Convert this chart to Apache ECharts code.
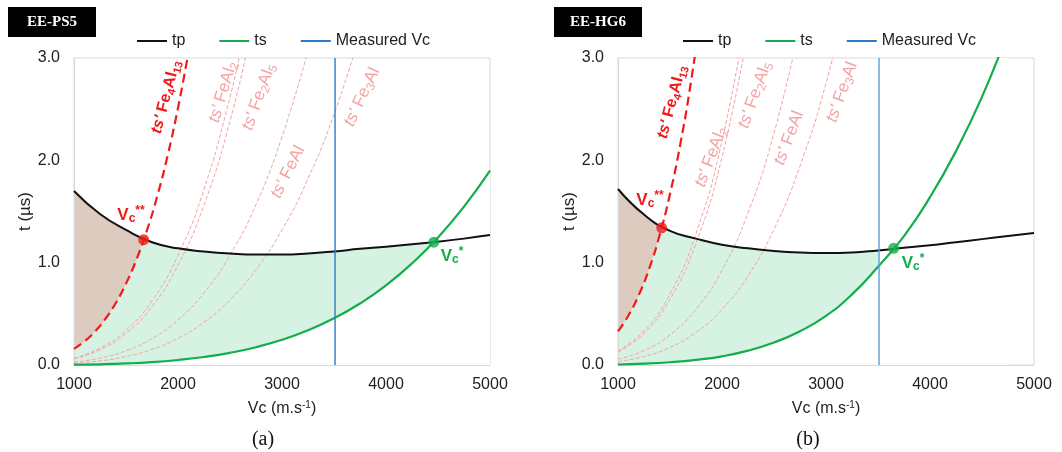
<!DOCTYPE html>
<html><head><meta charset="utf-8">
<script src="https://cdn.jsdelivr.net/npm/echarts@6/dist/echarts.min.js"></script>
<style>html,body{margin:0;padding:0;background:#fff}#c{width:1062px;height:452px}</style>
</head><body><div id="c"></div>
<script>
// ---------- data ----------
const xTicks = [1000, 2000, 3000, 4000, 5000];
const yTicks = [0, 1, 2, 3];
const panelTitles = ['EE-PS5', 'EE-HG6'];
const captions = ['(a)', '(b)'];
const measuredVc = [3510, 3510];

// panel (a) EE-PS5
const tpA = [[1000,1.70],[1250,1.475],[1500,1.32],[1750,1.20],[2000,1.14],[2250,1.11],[2500,1.09],[2750,1.08],[3000,1.08],[3250,1.09],[3500,1.11],[3750,1.135],[4000,1.155],[4250,1.18],[4500,1.205],[4750,1.235],[5000,1.27]];
const tsA = [[1000,0.003],[1250,0.007],[1500,0.015],[1750,0.028],[2000,0.049],[2250,0.078],[2500,0.119],[2750,0.174],[3000,0.246],[3250,0.339],[3500,0.456],[3750,0.601],[4000,0.778],[4250,0.993],[4500,1.247],[4750,1.548],[5000,1.90]];
const fe4al13A = [[1000,0.157],[1100,0.23],[1200,0.326],[1300,0.448],[1400,0.603],[1500,0.795],[1600,1.029],[1700,1.311],[1800,1.648],[1900,2.046],[2000,2.512],[2100,3.053]];
const feal2A = [[1000,0.067],[1250,0.164],[1500,0.339],[1750,0.628],[2000,1.072],[2250,1.717],[2500,2.617],[2600,3.06]];
const fe2al5A = [[1000,0.061],[1250,0.149],[1500,0.309],[1750,0.572],[2000,0.976],[2250,1.563],[2500,2.383],[2700,3.24]];
const fealA = [[1000,0.028],[1250,0.067],[1500,0.139],[1750,0.258],[2000,0.44],[2250,0.705],[2500,1.074],[2750,1.57],[3000,2.23],[3250,3.07]];
const fe3alA = [[1000,0.016],[1250,0.04],[1500,0.083],[1750,0.153],[2000,0.261],[2250,0.418],[2500,0.637],[2750,0.932],[3000,1.32],[3250,1.82],[3500,2.45],[3750,3.23]];
const vcStarStarA = [1670, 1.225];
const vcStarA = [4460, 1.20];
const tpAtFillEndA = vcStarA;

// panel (b) EE-HG6
const tpB = [[1000,1.72],[1250,1.47],[1500,1.31],[1750,1.235],[2000,1.175],[2250,1.14],[2500,1.115],[2750,1.10],[3000,1.095],[3250,1.10],[3500,1.12],[3750,1.145],[4000,1.17],[4250,1.20],[4500,1.23],[4750,1.26],[5000,1.29]];
const tsB = [[1000,0.005],[1250,0.013],[1500,0.027],[1750,0.05],[2000,0.085],[2250,0.14],[2500,0.22],[2750,0.33],[3000,0.48],[3250,0.69],[3500,0.96],[3750,1.26],[4000,1.64],[4250,2.09],[4500,2.62],[4750,3.25]];
const fe4al13B = [[1000,0.33],[1100,0.483],[1200,0.684],[1300,0.942],[1400,1.268],[1500,1.671],[1600,2.163],[1700,2.756],[1800,3.464]];
const feal2B = [[1000,0.137],[1250,0.334],[1500,0.694],[1750,1.285],[2000,2.19],[2250,3.52]];
const fe2al5B = [[1000,0.127],[1250,0.31],[1500,0.643],[1750,1.191],[2000,2.03],[2250,3.26]];
const fealB = [[1000,0.058],[1250,0.142],[1500,0.294],[1750,0.544],[2000,0.928],[2250,1.486],[2500,2.266],[2750,3.32]];
const fe3alB = [[1000,0.034],[1250,0.083],[1500,0.172],[1750,0.319],[2000,0.544],[2250,0.871],[2500,1.328],[2750,1.944],[3000,2.754],[3250,3.79]];
const vcStarStarB = [1420, 1.34];
const vcStarB = [3650, 1.14];
const tpAtFillEndB = [3510, 1.12];

// ---------- styling ----------
const C = {
  tp: '#111111', ts: '#13ad4c', red: '#f01a1a', pink: '#f3a3a3',
  blueA: '#2f7bc0', blueB: '#5d9fd6', fillG: '#d6f2e3', fillB: '#dccbbe', grid: '#d9d9d9'
};
const FONT = 'Liberation Sans, Arial, sans-serif';
const SERIF = 'Liberation Serif, Times New Roman, serif';

const panels = [
  {tp: tpA, ts: tsA, red: fe4al13A, pinks: [feal2A, fe2al5A, fealA, fe3alA], vcss: vcStarStarA, vcs: vcStarA, fillEnd: tpAtFillEndA, mv: measuredVc[0], blue: C.blueA, left: 74, legendLeft: 137},
  {tp: tpB, ts: tsB, red: fe4al13B, pinks: [feal2B, fe2al5B, fealB, fe3alB], vcss: vcStarStarB, vcs: vcStarB, fillEnd: tpAtFillEndB, mv: measuredVc[1], blue: C.blueB, left: 618, legendLeft: 683}
];

const grids = [], xAxes = [], yAxes = [], series = [], legends = [];
panels.forEach((p, i) => {
  grids.push({left: p.left, top: 58, width: 416, height: 307, show: true, borderColor: C.grid, borderWidth: 1, backgroundColor: 'transparent'});
  xAxes.push({
    type: 'value', gridIndex: i, z: 3, min: xTicks[0], max: xTicks[xTicks.length - 1], interval: 1000,
    axisLine: {show: true, lineStyle: {color: C.grid}}, axisTick: {show: false}, splitLine: {show: false},
    axisLabel: {fontSize: 16, color: '#222', fontFamily: FONT, margin: 12, formatter: v => String(v)},
    name: 'Vc (m.s{sup|-1})', nameLocation: 'middle', nameGap: 35,
    nameTextStyle: {fontSize: 16, color: '#222', fontFamily: FONT, lineHeight: 18,
      rich: {sup: {fontSize: 10, fontFamily: FONT, color: '#222', verticalAlign: 'top', lineHeight: 10}}}
  });
  yAxes.push({
    type: 'value', gridIndex: i, z: 3, min: yTicks[0], max: yTicks[yTicks.length - 1], interval: 1,
    axisLine: {show: true, lineStyle: {color: C.grid}}, axisTick: {show: false}, splitLine: {show: false},
    axisLabel: {fontSize: 16, color: '#222', fontFamily: FONT, margin: 14, formatter: v => v.toFixed(1)},
    name: 't (µs)', nameLocation: 'middle', nameGap: 39, nameRotate: 90,
    nameTextStyle: {fontSize: 17, color: '#222', fontFamily: FONT}
  });
  const base = {xAxisIndex: i, yAxisIndex: i, type: 'line', smooth: true, symbol: 'none', silent: true};
  const fill = (data, color, z) => Object.assign({}, base, {
    name: 'fill', data, z, lineStyle: {opacity: 0, width: 0}, areaStyle: {color, opacity: 1}
  });
  // green region: under tp up to the end of the filled zone
  series.push(fill(p.tp.filter(d => d[0] < p.fillEnd[0]).concat([p.fillEnd]), C.fillG, 1));
  // brown region: between tp and ts'(Fe4Al13), left of Vc**
  const brownPts = p.tp.filter(d => d[0] < p.vcss[0]).concat([p.vcss])
    .concat(p.red.filter(d => d[0] < p.vcss[0]).slice().reverse());
  series.push({
    type: 'custom', xAxisIndex: i, yAxisIndex: i, name: 'brown', data: [0], z: 2, silent: true, clip: true,
    renderItem: (params, api) => ({type: 'polygon', shape: {points: brownPts.map(d => api.coord(d))}, style: {fill: C.fillB}})
  });
  // white below ts
  series.push(fill(p.ts, '#ffffff', 2));
  // ts' curves of other phases
  p.pinks.forEach(arr => series.push(Object.assign({}, base, {
    name: 'pink', data: arr, z: 4, lineStyle: {color: C.pink, width: 1, type: [4, 2]}
  })));
  series.push(Object.assign({}, base, {name: 'tp', data: p.tp, z: 5, itemStyle: {color: C.tp}, lineStyle: {color: C.tp, width: 2}}));
  series.push(Object.assign({}, base, {name: 'ts', data: p.ts, z: 5, itemStyle: {color: C.ts}, lineStyle: {color: C.ts, width: 2.2}}));
  series.push(Object.assign({}, base, {name: 'red', data: p.red, z: 6, lineStyle: {color: C.red, width: 2.2, type: [9, 5]}}));
  series.push(Object.assign({}, base, {name: 'Measured Vc', smooth: false, data: [[p.mv, yTicks[0]], [p.mv, yTicks[yTicks.length - 1]]], z: 7,
    itemStyle: {color: p.blue}, lineStyle: {color: p.blue, width: 1.4}}));
  series.push({type: 'scatter', xAxisIndex: i, yAxisIndex: i, name: 'dot', data: [p.vcss], symbolSize: 11, z: 8, silent: true, itemStyle: {color: C.red}});
  series.push({type: 'scatter', xAxisIndex: i, yAxisIndex: i, name: 'dot', data: [p.vcs], symbolSize: 11, z: 8, silent: true, itemStyle: {color: C.ts}});
  legends.push({
    left: p.legendLeft, top: 33, padding: 0, data: ['tp', 'ts', 'Measured Vc'], icon: 'rect', itemWidth: 30, itemHeight: 2,
    itemGap: 34, selectedMode: false, textStyle: {fontSize: 16, color: '#222', fontFamily: FONT}
  });
});

// ---------- labels ----------
const richCommon = (fill, size) => ({
  it: {fontStyle: 'italic', fontSize: size, fill, fontFamily: FONT},
  sub: {fontSize: Math.round(size * 0.68), fill, fontFamily: FONT, verticalAlign: 'bottom', lineHeight: 12},
  sup: {fontSize: Math.round(size * 0.68), fill, fontFamily: FONT, verticalAlign: 'top', lineHeight: 12}
});
function rotLabel(x, y, deg, text, fill, size, weight) {
  const rich = richCommon(fill, size);
  Object.keys(rich).forEach(k => rich[k].fontWeight = weight);
  return {type: 'text', x, y, rotation: deg * Math.PI / 180, z: 20, silent: true,
    style: {text, fill, fontSize: size, fontWeight: weight, fontFamily: FONT, align: 'center', verticalAlign: 'middle', lineHeight: 20, rich}};
}
const phaseLabels = [
  // panel a
  rotLabel(166, 97, 75, "{it|ts'} Fe{sub|4}Al{sub|13}", C.red, 16, 'bold'),
  rotLabel(223, 92, 73, "{it|ts'} FeAl{sub|2}", C.pink, 17, 'normal'),
  rotLabel(259, 97, 70, "{it|ts'} Fe{sub|2}Al{sub|5}", C.pink, 17, 'normal'),
  rotLabel(288, 172, 63, "{it|ts'} FeAl", C.pink, 17, 'normal'),
  rotLabel(362, 97, 65, "{it|ts'} Fe{sub|3}Al", C.pink, 17, 'normal'),
  rotLabel(131, 215, 0, "V{sub|c}{sup|**}", C.red, 17, 'bold'),
  rotLabel(452, 256, 0, "V{sub|c}{sup|*}", C.ts, 17, 'bold'),
  // panel b
  rotLabel(672, 102, 75, "{it|ts'} Fe{sub|4}Al{sub|13}", C.red, 16, 'bold'),
  rotLabel(711, 157, 69, "{it|ts'} FeAl{sub|2}", C.pink, 17, 'normal'),
  rotLabel(755, 95, 70, "{it|ts'} Fe{sub|2}Al{sub|5}", C.pink, 17, 'normal'),
  rotLabel(789, 138, 69, "{it|ts'} FeAl", C.pink, 17, 'normal'),
  rotLabel(842, 92, 70, "{it|ts'} Fe{sub|3}Al", C.pink, 17, 'normal'),
  rotLabel(650, 200, 0, "V{sub|c}{sup|**}", C.red, 17, 'bold'),
  rotLabel(913, 263, 0, "V{sub|c}{sup|*}", C.ts, 17, 'bold')
];
const boxes = [];
[[8, panelTitles[0]], [554, panelTitles[1]]].forEach(([x, t]) => {
  boxes.push({type: 'rect', shape: {x, y: 7, width: 88, height: 30}, style: {fill: '#000'}, z: 20, silent: true});
  boxes.push({type: 'text', x: x + 44, y: 22, z: 21, silent: true,
    style: {text: t, fill: '#fff', fontSize: 15, fontWeight: 'bold', fontFamily: SERIF, align: 'center', verticalAlign: 'middle'}});
});
[[263, captions[0]], [808, captions[1]]].forEach(([x, t]) => {
  boxes.push({type: 'text', x, y: 440, z: 21, silent: true,
    style: {text: t, fill: '#111', fontSize: 20, fontFamily: SERIF, align: 'center', verticalAlign: 'middle'}});
});

const chart = echarts.init(document.getElementById('c'), null, {renderer: 'canvas'});
chart.setOption({
  animation: false, backgroundColor: '#fff',
  grid: grids, xAxis: xAxes, yAxis: yAxes, series, legend: legends,
  graphic: phaseLabels.concat(boxes)
});
</script></body></html>
